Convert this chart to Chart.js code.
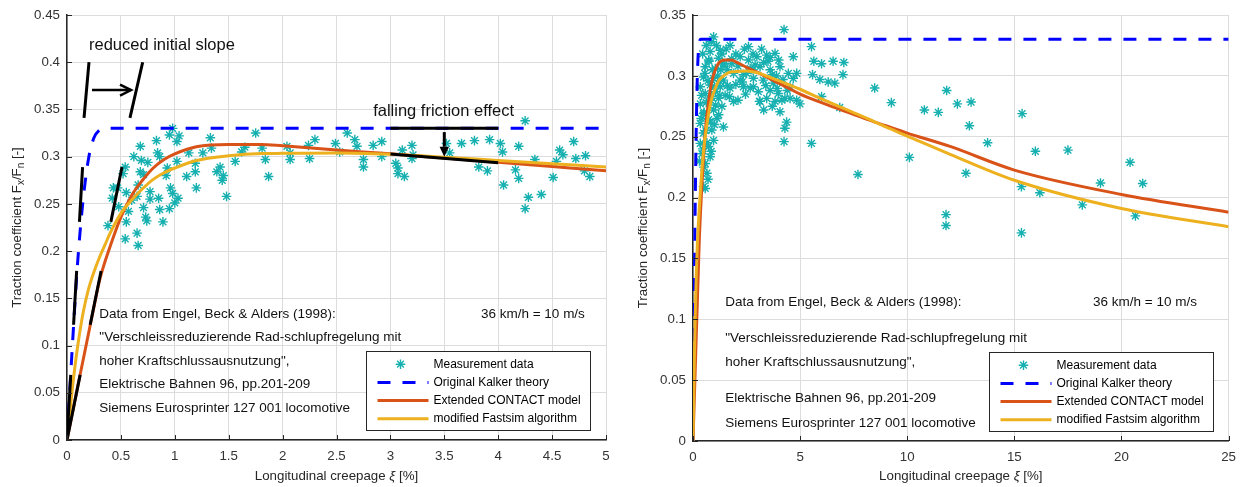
<!DOCTYPE html>
<html>
<head>
<meta charset="utf-8">
<script src="https://cdn.jsdelivr.net/npm/chart.js@4.4.1/dist/chart.umd.min.js"></script>
<style>
  html, body { margin: 0; padding: 0; background: #fff; }
  .panel { position: absolute; top: 0; height: 487px; }
  #left { left: 0; width: 620px; }
  #right { left: 620px; width: 624px; }
</style>
</head>
<body>
<div class="panel" id="left"><canvas id="chartLeft"></canvas></div>
<div class="panel" id="right"><canvas id="chartRight"></canvas></div>
<script>
// model curves: creepage [%] -> traction coefficient
const kalkerCreepage = [0, 0.05, 0.1, 0.15, 0.2, 0.25, 0.3, 0.35, 0.4, 25];
const kalkerTraction = [0, 0.1, 0.19, 0.255, 0.298, 0.32, 0.328, 0.33, 0.33, 0.33];

const modelCreepage = [0, 0.05, 0.1, 0.15, 0.2, 0.25, 0.3, 0.35, 0.4, 0.5, 0.6, 0.7, 0.8, 0.9, 1.0, 1.2, 1.5, 1.8,
  2.0, 2.5, 3.0, 3.5, 4.0, 4.5, 5.0, 6, 7, 8, 9, 10, 12, 15, 20, 25];
const contactTraction = [0, 0.0285, 0.057, 0.085, 0.113, 0.141, 0.168, 0.188, 0.205, 0.236, 0.259, 0.275, 0.288, 0.297,
  0.303, 0.3105, 0.313, 0.313, 0.3115, 0.307, 0.303, 0.2985, 0.294, 0.2895, 0.285, 0.278, 0.2715, 0.265, 0.259, 0.253,
  0.242, 0.2226, 0.2026, 0.188];
const fastsimTraction = [0, 0.055, 0.1, 0.135, 0.16, 0.178, 0.193, 0.206, 0.219, 0.24, 0.254, 0.266, 0.276, 0.283,
  0.288, 0.296, 0.301, 0.3033, 0.3035, 0.304, 0.3025, 0.2995, 0.296, 0.2925, 0.289, 0.281, 0.2735, 0.266, 0.258, 0.2505,
  0.2355, 0.2142, 0.191, 0.176];

// measurements, 0..5 % creepage
const leftCreepage = [0.98, 0.95, 1.02, 1.04, 0.83, 0.68, 0.84, 0.86, 0.62, 0.69, 0.75, 0.54, 0.52, 0.68, 0.71, 1.02,
  0.93, 0.92, 0.47, 0.55, 0.66, 0.77, 0.96, 0.98, 1.03, 1.00, 0.85, 0.77, 0.71, 0.86, 0.95, 0.42, 0.43, 0.48, 0.57,
  0.60, 0.65, 0.73, 0.74, 0.89, 0.38, 0.55, 0.65, 0.54, 0.66, 1.19, 1.19, 1.11, 1.20, 1.33, 1.34, 1.26, 1.39, 1.44,
  1.45, 1.48, 1.56, 1.62, 1.75, 1.42, 1.13, 1.65, 1.81, 1.84, 1.87, 2.04, 2.07, 2.07, 2.24, 2.30, 2.25, 2.49, 2.53,
  2.60, 2.67, 2.69, 2.75, 2.75, 2.84, 2.92, 2.92, 3.05, 3.07, 3.13, 3.11, 3.20, 3.21, 3.20, 3.07, 3.52, 3.55, 3.66,
  3.78, 3.92, 4.02, 4.04, 4.19, 4.25, 3.82, 3.90, 4.05, 4.16, 4.19, 4.28, 4.25, 4.40, 4.34, 4.51, 4.54, 4.57, 4.60,
  4.70, 4.72, 4.81, 4.80, 4.85];
const leftTraction = [0.330, 0.323, 0.316, 0.322, 0.317, 0.311, 0.304, 0.300, 0.300, 0.296, 0.294, 0.289, 0.282,
  0.284, 0.281, 0.295, 0.288, 0.280, 0.267, 0.262, 0.270, 0.263, 0.267, 0.261, 0.256, 0.251, 0.256, 0.255, 0.246,
  0.244, 0.245, 0.256, 0.267, 0.247, 0.242, 0.254, 0.258, 0.236, 0.232, 0.231, 0.227, 0.231, 0.219, 0.213, 0.206,
  0.293, 0.284, 0.279, 0.267, 0.320, 0.309, 0.304, 0.284, 0.275, 0.280, 0.258, 0.295, 0.305, 0.325, 0.289, 0.304,
  0.310, 0.309, 0.297, 0.279, 0.311, 0.304, 0.297, 0.312, 0.318, 0.298, 0.314, 0.305, 0.325, 0.318, 0.311, 0.297,
  0.289, 0.312, 0.316, 0.300, 0.293, 0.288, 0.279, 0.307, 0.312, 0.302, 0.298, 0.282, 0.314, 0.304, 0.314, 0.317,
  0.318, 0.314, 0.305, 0.311, 0.338, 0.289, 0.285, 0.270, 0.286, 0.277, 0.257, 0.245, 0.260, 0.297, 0.278, 0.295,
  0.307, 0.302, 0.316, 0.298, 0.301, 0.285, 0.279];

// measurements, 0..25 % creepage
const rightCreepage = [4.25, 0.96, 5.53, 5.64, 6.0, 6.54, 7.04, 5.58, 5.92, 6.31, 6.62, 7.0, 6.0, 6.85, 8.48, 9.26,
  10.8, 11.45, 10.1, 7.70, 5.53, 11.84, 12.34, 12.98, 12.9, 13.75, 12.74, 11.81, 11.81, 15.36, 15.98, 15.33, 16.19,
  15.33, 17.5, 18.17, 19.02, 20.4, 20.99, 20.65,
  0.49, 0.65, 0.57, 0.80, 0.42, 0.73, 0.34, 0.96, 0.49, 0.88, 1.42, 0.34, 0.73, 1.12, 0.49, 0.96, 1.35, 0.34, 0.80,
  1.19, 1.89, 0.57, 1.04, 1.50, 0.34, 0.80, 1.27, 1.73, 0.49, 0.96, 1.42, 2.2, 2.67, 3.05, 0.57, 1.04, 1.89, 2.35,
  2.82, 3.28, 3.75, 0.73, 1.19, 0.80, 1.27, 1.73, 2.59, 2.2, 2.59, 2.98, 3.44, 3.83, 3.13, 3.6, 4.06, 4.45, 4.68,
  4.68, 4.84, 4.53, 3.93, 3.6, 3.98, 4.29, 4.84, 4.99, 4.53, 2.67, 1.81, 2.82, 3.13, 2.35, 3.44, 3.83, 1.42, 4.06,
  4.37, 4.29, 4.25, 3.1, 0.57,
  0.45, 0.62, 0.85, 1.1, 1.35, 1.55, 0.55, 0.7, 0.9, 1.15, 1.3, 1.6, 0.4, 0.62, 0.85, 1.05, 1.25, 1.6, 0.38, 0.6,
  0.82, 1.0, 1.2, 0.45, 0.65, 0.85, 0.5, 0.7, 2.0, 2.4, 2.8, 3.2, 3.6, 4.0, 2.1, 2.5, 2.9, 3.3, 3.7, 4.2, 2.0, 2.45,
  3.4, 3.9, 4.4, 1.7, 2.1, 3.3, 3.7, 4.15, 0.3, 0.52, 0.75, 1.0, 1.22, 1.45, 1.8, 2.3, 2.75, 3.5];
const rightTraction = [0.338, 0.332, 0.324, 0.312, 0.310, 0.312, 0.311, 0.301, 0.297, 0.295, 0.294, 0.301, 0.283,
  0.274, 0.290, 0.278, 0.272, 0.270, 0.233, 0.219, 0.2445, 0.288, 0.277, 0.2785, 0.259, 0.245, 0.220, 0.186, 0.177,
  0.269, 0.238, 0.209, 0.204, 0.171, 0.239, 0.194, 0.212, 0.229, 0.2116, 0.185,
  0.209, 0.220, 0.228, 0.2335, 0.236, 0.242, 0.2445, 0.247, 0.253, 0.2555, 0.258, 0.261, 0.264, 0.265, 0.269, 0.272,
  0.275, 0.277, 0.280, 0.2815, 0.279, 0.2855, 0.287, 0.284, 0.291, 0.2925, 0.291, 0.290, 0.299, 0.298, 0.2965,
  0.2965, 0.290, 0.287, 0.3075, 0.306, 0.302, 0.301, 0.298, 0.2965, 0.294, 0.313, 0.3145, 0.320, 0.321, 0.325, 0.324,
  0.3157, 0.313, 0.3157, 0.317, 0.3185, 0.3075, 0.305, 0.3075, 0.302, 0.298, 0.3157, 0.302, 0.291, 0.2897, 0.288,
  0.2855, 0.2815, 0.280, 0.277, 0.2815, 0.306, 0.310, 0.291, 0.279, 0.291, 0.2815, 0.279, 0.310, 0.2705, 0.262, 0.257,
  0.246, 0.279, 0.2075,
  0.318, 0.325, 0.328, 0.325, 0.318, 0.322, 0.302, 0.296, 0.305, 0.300, 0.305, 0.305, 0.284, 0.278, 0.283, 0.276,
  0.284, 0.292, 0.265, 0.255, 0.262, 0.260, 0.268, 0.240, 0.245, 0.238, 0.225, 0.215, 0.318, 0.322, 0.318, 0.322,
  0.315, 0.313, 0.308, 0.302, 0.309, 0.311, 0.301, 0.297, 0.293, 0.285, 0.292, 0.300, 0.288, 0.283, 0.280, 0.272,
  0.275, 0.280, 0.230, 0.270, 0.312, 0.291, 0.296, 0.309, 0.314, 0.295, 0.305, 0.312];

// black guide segments [x0, y0, x1, y1]
const guideInitialKalker = [[0, 0, 0.0345, 0.069], [0.061, 0.122, 0.0895, 0.179], [0.1155, 0.231, 0.1445, 0.289]];
const guideInitialReduced = [[0, 0, 0.122, 0.069], [0.215, 0.122, 0.316, 0.179], [0.407, 0.231, 0.51, 0.289]];
const guideSlopeMarks = [[0.158, 0.341, 0.204, 0.40], [0.584, 0.341, 0.702, 0.40]];
const guideFalling = [[3.0, 0.33, 4.0, 0.33], [3.0, 0.3028, 4.0, 0.2935]];

const AXIS = '#262626';
const GRID = '#dcdcdc';
const TEAL = '#17b0b0';
const BLUE = '#0000ff';
const ORANGE = '#d95319';
const YELLOW = '#edb120';
const FONT = "'Liberation Sans', Arial, sans-serif";

Chart.defaults.font.family = FONT;
Chart.defaults.font.size = 13.3;

function pts(xs, ys) {
  return xs.map((x, i) => ({ x: x, y: ys[i] }));
}

function segments(list) {
  const out = [];
  list.forEach(s => {
    out.push({ x: s[0], y: s[1] }, { x: s[2], y: s[3] }, { x: s[2], y: null });
  });
  return out;
}

function drawRuns(ctx, runs, cx, cy) {
  let w = 0;
  runs.forEach(r => { ctx.font = r.font; r.w = ctx.measureText(r.text).width; w += r.w; });
  let x = cx - w / 2;
  runs.forEach(r => {
    ctx.font = r.font;
    ctx.fillText(r.text, x, cy + (r.dy || 0));
    x += r.w;
  });
}

function drawArrow(ctx, x0, y0, x1, y1, filled) {
  const a = Math.atan2(y1 - y0, x1 - x0);
  const len = filled ? 10 : 11;
  const half = filled ? 4.7 : 5.5;
  const bx = x1 - len * Math.cos(a), by = y1 - len * Math.sin(a);
  const px = -Math.sin(a) * half, py = Math.cos(a) * half;
  ctx.beginPath();
  ctx.moveTo(x0, y0);
  ctx.lineTo(filled ? bx : x1, filled ? by : y1);
  ctx.stroke();
  ctx.beginPath();
  if (filled) {
    ctx.moveTo(bx + px, by + py);
    ctx.lineTo(x1, y1);
    ctx.lineTo(bx - px, by - py);
    ctx.closePath();
    ctx.fill();
  } else {
    ctx.moveTo(bx + px, by + py);
    ctx.lineTo(x1, y1);
    ctx.lineTo(bx - px, by - py);
    ctx.stroke();
  }
}

// inward ticks, axis titles, notes, arrows and the boxed legend
const decorPlugin = {
  id: 'decor',
  afterDraw(chart, args, opts) {
    const ctx = chart.ctx;
    const area = chart.chartArea;
    const xs = chart.scales.x, ys = chart.scales.y;
    ctx.save();

    ctx.strokeStyle = AXIS;
    ctx.lineWidth = 1;
    ctx.beginPath();
    xs.ticks.forEach(t => {
      const px = Math.round(xs.getPixelForValue(t.value)) + 0.5;
      ctx.moveTo(px, area.bottom);
      ctx.lineTo(px, area.bottom - 5);
    });
    ys.ticks.forEach(t => {
      const py = Math.round(ys.getPixelForValue(t.value)) + 0.5;
      ctx.moveTo(area.left, py);
      ctx.lineTo(area.left + 5, py);
    });
    ctx.stroke();

    // axis titles
    const base = '13.3px ' + FONT;
    const sub = '10px ' + FONT;
    ctx.fillStyle = AXIS;
    ctx.textBaseline = 'middle';
    ctx.textAlign = 'left';
    drawRuns(ctx, [
      { text: 'Longitudinal creepage ', font: base },
      { text: 'ξ', font: 'italic ' + base },
      { text: ' [%]', font: base }
    ], (area.left + area.right) / 2, opts.xTitleY);
    ctx.save();
    ctx.translate(area.left - 50, (area.top + area.bottom) / 2);
    ctx.rotate(-Math.PI / 2);
    drawRuns(ctx, [
      { text: 'Traction coefficient F', font: base },
      { text: 'x', font: sub, dy: 4 },
      { text: '/F', font: base },
      { text: 'n', font: sub, dy: 4 },
      { text: ' [-]', font: base }
    ], 0, 0);
    ctx.restore();

    // notes placed in data coordinates
    ctx.fillStyle = '#111';
    (opts.notes || []).forEach(n => {
      ctx.font = (n.size || 13.5) + 'px ' + FONT;
      ctx.fillText(n.text, xs.getPixelForValue(n.x), ys.getPixelForValue(n.y));
    });

    ctx.strokeStyle = '#000';
    ctx.fillStyle = '#000';
    (opts.arrows || []).forEach(a => {
      ctx.lineWidth = a.width;
      drawArrow(ctx, xs.getPixelForValue(a.from[0]), ys.getPixelForValue(a.from[1]),
        xs.getPixelForValue(a.to[0]), ys.getPixelForValue(a.to[1]), a.filled);
    });

    // legend box in the lower right corner
    const bw = 224, bh = 79;
    const bx = Math.round(area.right - 16 - bw) + 0.5;
    const by = Math.round(area.bottom - 10 - bh) + 0.5;
    ctx.fillStyle = '#fff';
    ctx.fillRect(bx, by, bw, bh);
    ctx.strokeStyle = AXIS;
    ctx.lineWidth = 1;
    ctx.strokeRect(bx, by, bw, bh);
    ctx.font = '12px ' + FONT;
    ctx.textBaseline = 'middle';
    chart.data.datasets.filter(d => d.legendKind).forEach((d, i) => {
      const y = by + 12.7 + i * 18.2;
      if (d.legendKind === 'marker') {
        ctx.strokeStyle = d.borderColor;
        ctx.lineWidth = d.borderWidth;
        Chart.helpers.drawPoint(ctx, { pointStyle: 'star', radius: d.pointRadius, rotation: 0, borderWidth: d.borderWidth },
          bx + 34, y);
      } else {
        ctx.strokeStyle = d.borderColor;
        ctx.lineWidth = d.borderWidth;
        ctx.setLineDash(d.borderDash || []);
        ctx.beginPath();
        ctx.moveTo(bx + 11, y);
        ctx.lineTo(bx + 62, y);
        ctx.stroke();
        ctx.setLineDash([]);
      }
      ctx.fillStyle = '#000';
      ctx.fillText(d.label, bx + 67, y);
    });

    ctx.restore();
  }
};

function modelDatasets(scatter) {
  return [
    { type: 'scatter', label: 'Measurement data', data: scatter, legendKind: 'marker', pointStyle: 'star',
      pointRadius: 4.8, borderColor: TEAL, backgroundColor: TEAL, borderWidth: 1.4, order: 6 },
    { label: 'Original Kalker theory', data: pts(kalkerCreepage, kalkerTraction), legendKind: 'line',
      borderColor: BLUE, borderWidth: 3, borderDash: [13, 12], cubicInterpolationMode: 'monotone', order: 5 },
    { label: 'Extended CONTACT model', data: pts(modelCreepage, contactTraction), legendKind: 'line',
      borderColor: ORANGE, borderWidth: 3, cubicInterpolationMode: 'monotone', order: 4 },
    { label: 'modified Fastsim algorithm', data: pts(modelCreepage, fastsimTraction), legendKind: 'line',
      borderColor: YELLOW, borderWidth: 3, cubicInterpolationMode: 'monotone', order: 3 }
  ];
}

function makeChart(id, cfg) {
  return new Chart(document.getElementById(id), {
    type: 'line',
    data: { datasets: cfg.datasets },
    options: {
      responsive: true,
      maintainAspectRatio: false,
      animation: false,
      events: [],
      layout: { autoPadding: false, padding: { top: 15, right: 14, bottom: 0, left: 0 } },
      elements: { point: { radius: 0 }, line: { fill: false } },
      plugins: { legend: { display: false }, tooltip: { enabled: false }, decor: cfg.decor },
      scales: {
        x: {
          type: 'linear', min: 0, max: cfg.xMax,
          afterFit: s => { s.height = cfg.xHeight; },
          ticks: { stepSize: cfg.xStep, autoSkip: false, maxRotation: 0, color: '#333', padding: 8,
            callback: v => String(Math.round(v * 100) / 100) },
          grid: { color: GRID, drawTicks: false },
          border: { color: AXIS, width: 1.5 }
        },
        y: {
          type: 'linear', min: 0, max: cfg.yMax,
          afterFit: s => { s.width = cfg.yWidth; },
          ticks: { stepSize: 0.05, autoSkip: false, color: '#333', padding: 7,
            callback: v => String(Math.round(v * 100) / 100) },
          grid: { color: GRID, drawTicks: false },
          border: { color: AXIS, width: 1.5 }
        }
      }
    },
    plugins: [decorPlugin]
  });
}

const guideStyle = { borderColor: '#000', borderWidth: 3, pointRadius: 0, spanGaps: false, tension: 0 };

makeChart('chartLeft', {
  xMax: 5, xStep: 0.5, yMax: 0.45, xHeight: 47, yWidth: 67,
  datasets: modelDatasets(pts(leftCreepage, leftTraction)).concat([
    Object.assign({ label: 'initial slopes', order: 1,
      data: segments(guideInitialKalker.concat(guideInitialReduced, guideSlopeMarks)) }, guideStyle),
    Object.assign({ label: 'falling friction', order: 2, data: segments(guideFalling) }, guideStyle)
  ]),
  decor: {
    xTitleY: 476,
    notes: [
      { x: 0.204, y: 0.4175, text: 'reduced initial slope', size: 16.5 },
      { x: 2.84, y: 0.348, text: 'falling friction effect', size: 16.5 },
      { x: 0.3, y: 0.1334, text: 'Data from Engel, Beck & Alders (1998):' },
      { x: 3.84, y: 0.1334, text: '36 km/h = 10 m/s' },
      { x: 0.3, y: 0.109, text: '"Verschleissreduzierende Rad-schlupfregelung mit' },
      { x: 0.3, y: 0.0829, text: 'hoher Kraftschlussausnutzung",' },
      { x: 0.3, y: 0.0593, text: 'Elektrische Bahnen 96, pp.201-209' },
      { x: 0.3, y: 0.0339, text: 'Siemens Eurosprinter 127 001 locomotive' }
    ],
    arrows: [
      { from: [0.232, 0.3705], to: [0.594, 0.3705], width: 2.5, filled: false },
      { from: [3.5, 0.326], to: [3.5, 0.300], width: 3, filled: true }
    ]
  }
});

makeChart('chartRight', {
  xMax: 25, xStep: 5, yMax: 0.35, xHeight: 46, yWidth: 73,
  datasets: modelDatasets(pts(rightCreepage, rightTraction)),
  decor: {
    xTitleY: 476,
    notes: [
      { x: 1.5, y: 0.1143, text: 'Data from Engel, Beck & Alders (1998):' },
      { x: 18.67, y: 0.1143, text: '36 km/h = 10 m/s' },
      { x: 1.5, y: 0.0842, text: '"Verschleissreduzierende Rad-schlupfregelung mit' },
      { x: 1.5, y: 0.065, text: 'hoher Kraftschlussausnutzung",' },
      { x: 1.5, y: 0.0349, text: 'Elektrische Bahnen 96, pp.201-209' },
      { x: 1.5, y: 0.0148, text: 'Siemens Eurosprinter 127 001 locomotive' }
    ]
  }
});
</script>
</body>
</html>
